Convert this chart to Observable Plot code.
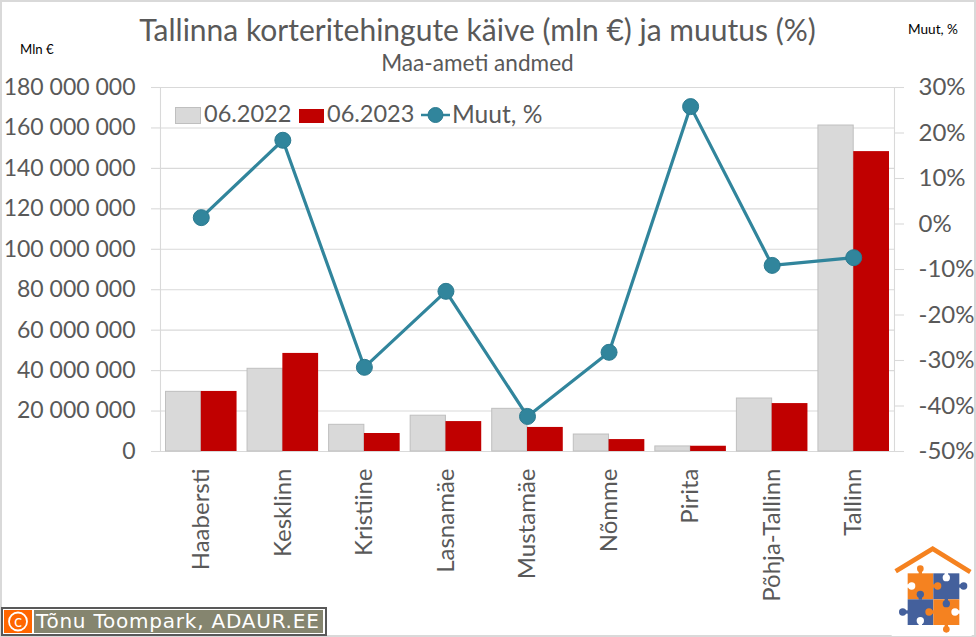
<!DOCTYPE html>
<html><head><meta charset="utf-8">
<script src="https://cdn.jsdelivr.net/npm/d3@7"></script>
<script src="https://cdn.jsdelivr.net/npm/@observablehq/plot@0.6"></script>
<style>
html,body{margin:0;padding:0;background:#fff}
#page{position:relative;width:976px;height:637px;overflow:hidden;background:#fff;font-family:Lato,sans-serif;color:#595959}
#page svg{display:block}
#border{position:absolute;inset:0;border:2px solid #d9d9d9;box-sizing:border-box;pointer-events:none}
.t{position:absolute;white-space:nowrap;line-height:1}
.sw{position:absolute;box-sizing:border-box}
</style></head><body>
<div id="page">
<div id="chart"></div>
<div id="border"></div>
<div class="t" id="title" style="left:0;width:955px;text-align:center;top:14px;font-size:30px;color:#595959">Tallinna korteritehingute käive (mln €) ja muutus (%)</div>
<div class="t" id="subtitle" style="left:0;width:955px;text-align:center;top:52px;font-size:22.6px;color:#595959">Maa-ameti andmed</div>
<div class="t" style="left:20px;top:43px;font-size:13.2px;color:#000">Mln €</div>
<div class="t" style="left:908px;top:23px;font-size:13.6px;color:#000">Muut, %</div>
<div class="sw" style="left:175px;top:107px;width:26px;height:17px;background:#d9d9d9;border:1px solid #bfbfbf"></div>
<div class="t" style="left:204px;top:102px;font-size:23.5px">06.2022</div>
<div class="sw" style="left:299px;top:109px;width:25px;height:14px;background:#c00000"></div>
<div class="t" style="left:327px;top:102px;font-size:23.5px">06.2023</div>
<svg style="position:absolute;left:421px;top:104px" width="30" height="22"><line x1="0" x2="29" y1="11" y2="11" stroke="#31859c" stroke-width="2.5"/><circle cx="14.5" cy="11" r="7.5" fill="#31859c" stroke="#2b7a90"/></svg>
<div class="t" style="left:452px;top:102px;font-size:24.6px">Muut, %</div>
<div style="position:absolute;left:1px;top:607px;width:326px;height:29px;box-sizing:border-box;background:#fff;border:2px solid #595959">
  <div style="position:absolute;left:1px;top:1px;width:28px;height:23px;background:#ff6600"><svg width="28" height="23"><circle cx="14" cy="11.5" r="9" fill="none" stroke="#fff" stroke-width="1.8"/><text x="14" y="17" text-anchor="middle" font-family="DejaVu Sans" font-size="15" fill="#fff">c</text></svg></div>
  <div class="t" style="left:31px;top:1px;width:289px;height:23px;background:#85856f;color:#fff;font-family:'DejaVu Sans';font-size:20px;letter-spacing:.78px;line-height:23px;padding-left:2px;box-sizing:border-box">Tõnu Toompark, ADAUR.EE</div>
</div>
<svg style="position:absolute;left:860px;top:530px" width="116" height="107" viewBox="0 0 348 321">
  <rect x="95" y="38" width="240" height="280" fill="#fff"/>
  <polyline points="107,124 218,56 331,126" fill="none" stroke="#f58220" stroke-width="14"/>
  <rect x="143" y="130" width="77" height="78" fill="#f58220"/>
  <rect x="220" y="130" width="78" height="78" fill="#44609c"/>
  <rect x="143" y="208" width="77" height="77" fill="#44609c"/>
  <rect x="220" y="208" width="78" height="77" fill="#f58220"/>
  <circle cx="181" cy="116" r="10" fill="#f58220"/><rect x="176" y="120" width="10" height="12" fill="#f58220"/>
  <circle cx="259" cy="143" r="11" fill="#fff"/><rect x="254" y="128" width="10" height="8" fill="#fff"/>
  <circle cx="155" cy="168" r="11" fill="#fff"/><rect x="141" y="163" width="8" height="10" fill="#fff"/>
  <circle cx="233" cy="168" r="11" fill="#f58220"/><rect x="216" y="163" width="8" height="10" fill="#f58220"/>
  <circle cx="311" cy="168" r="11" fill="#44609c"/><rect x="296" y="163" width="8" height="10" fill="#44609c"/>
  <circle cx="181" cy="193" r="11" fill="#44609c"/><rect x="176" y="200" width="10" height="9" fill="#44609c"/>
  <circle cx="259" cy="221" r="11" fill="#44609c"/><rect x="254" y="206" width="10" height="8" fill="#44609c"/>
  <circle cx="128" cy="246" r="11" fill="#44609c"/><rect x="134" y="241" width="10" height="10" fill="#44609c"/>
  <circle cx="207" cy="246" r="11" fill="#f58220"/><rect x="214" y="241" width="8" height="10" fill="#f58220"/>
  <circle cx="285" cy="246" r="11" fill="#fff"/><rect x="291" y="241" width="9" height="10" fill="#fff"/>
  <circle cx="181" cy="272" r="11" fill="#fff"/><rect x="176" y="278" width="10" height="9" fill="#fff"/>
  <circle cx="259" cy="298" r="10" fill="#f58220"/><rect x="254" y="283" width="10" height="8" fill="#f58220"/>
</svg>
</div>
<script>
const districts = ["Haabersti","Kesklinn","Kristiine","Lasnamäe","Mustamäe","Nõmme","Pirita","Põhja-Tallinn","Tallinn"];
const values2022 = [29.5,40.9,13.2,17.7,21.1,8.4,2.5,26.2,161.2].map(v => v * 1e6);
const values2023 = [29.7,48.5,8.9,14.8,11.9,5.9,2.6,23.7,148.3].map(v => v * 1e6);
const changePct = [1.4,18.4,-31.5,-14.8,-42.3,-28.2,25.8,-9.1,-7.4];
const leftTicks = [0,20,40,60,80,100,120,140,160,180].map(v => v * 1e6);
const rightTicks = [30,20,10,0,-10,-20,-30,-40,-50];

const YMAX = 180e6, PMIN = -50, PMAX = 30;
const pctToY = p => (p - PMIN) / (PMAX - PMIN) * YMAX;
const yToPct = v => Math.round(v / YMAX * (PMAX - PMIN) + PMIN);
const fmt = d3.formatLocale({decimal:",",thousands:" ",grouping:[3],currency:["",""]}).format(",");
const idx = districts.map((_, i) => i);
const GRID = "#d9d9d9", TXT = "#595959", TEAL = "#31859c";

const plot = Plot.plot({
  width: 976, height: 637,
  marginLeft: 160, marginRight: 82, marginTop: 87, marginBottom: 186,
  style: {background: "transparent", fontFamily: "Lato, sans-serif"},
  x: {type: "band", domain: districts, padding: 0, round: false, label: null},
  y: {domain: [0, YMAX], label: null},
  marks: [
    Plot.gridY(leftTicks, {stroke: GRID, strokeOpacity: 1, strokeWidth: 1.1}),
    Plot.frame({anchor: "left", stroke: GRID, strokeWidth: 1.1}),
    Plot.frame({anchor: "right", stroke: GRID, strokeWidth: 1.1}),
    Plot.axisY({ticks: leftTicks, anchor: "left", tickSize: 9, tickPadding: 16, tickFormat: fmt, label: null,
      fontSize: 23, color: TXT, stroke: GRID, strokeWidth: 1.1}),
    Plot.axisY({ticks: rightTicks.map(pctToY), anchor: "right", tickSize: 9, tickPadding: 15, tickFormat: v => yToPct(v) + "%", label: null,
      fontSize: 24, color: TXT, stroke: GRID, strokeWidth: 1.1}),
    Plot.axisX({anchor: "bottom", tickSize: 0, tickPadding: 17, tickRotate: -90, label: null, fontSize: 24, color: TXT}),
    Plot.barY(idx, {x: i => districts[i], y: i => values2022[i], fill: "#d9d9d9", stroke: "#bfbfbf", strokeWidth: 1, insetLeft: 5.5, insetRight: 40.8}),
    Plot.barY(idx, {x: i => districts[i], y: i => values2023[i], fill: "#c00000", insetLeft: 40.8, insetRight: 5}),
    Plot.line(idx, {x: i => districts[i], y: i => pctToY(changePct[i]), stroke: TEAL, strokeWidth: 3.2, curve: "linear"}),
    Plot.dot(idx, {x: i => districts[i], y: i => pctToY(changePct[i]), r: 8, fill: TEAL, stroke: "#2b7a90", strokeWidth: 1})
  ]
});
document.getElementById("chart").appendChild(plot);
</script>
</body></html>
